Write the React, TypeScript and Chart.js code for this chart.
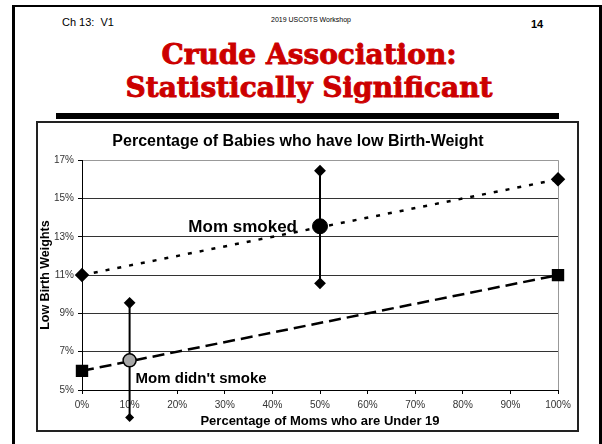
import React, { useEffect, useRef } from "react";
import { Chart, registerables } from "chart.js";

Chart.register(...registerables);

// ---- data ----
const lineX = [0, 100];
const smokedY = [11, 16];
const notSmokedY = [6, 11];
const smokedMeanX = 50;
const smokedMean = 13.55;
const smokedCI = [10.57, 16.45];
const notSmokedMeanX = 10;
const notSmokedMean = 6.55;
const notSmokedCI = [3.56, 9.55];
const xTicks = [0, 10, 20, 30, 40, 50, 60, 70, 80, 90, 100];
const yTicks = [5, 7, 9, 11, 13, 15, 17];
const chartTitle = "Percentage of Babies who have low Birth-Weight";
const xTitle = "Percentage of Moms who are Under 19";
const yTitle = "Low Birth Weights";
const smokedLabel = "Mom smoked";
const notSmokedLabel = "Mom didn't smoke";

const SANS = "'Liberation Sans', Arial, sans-serif";

const labelPlugin = {
  id: "groupLabels",
  afterDatasetsDraw(chart: any) {
    const { ctx, scales, chartArea } = chart;
    const x = scales.x;
    const y = scales.y;
    ctx.save();
    // caps of error bars that fall outside the plot area (Chart.js skips those points)
    chart.data.datasets.forEach((ds: any, i: number) => {
      if (ds.pointStyle !== "rectRot") return;
      const meta = chart.getDatasetMeta(i);
      meta.data.forEach((pt: any) => {
        const px = pt.x;
        const py = pt.y;
        if (py <= chartArea.bottom + 0.5 && py >= chartArea.top - 0.5) return;
        const r = ds.pointRadius;
        ctx.beginPath();
        ctx.moveTo(px, py - r);
        ctx.lineTo(px + r, py);
        ctx.lineTo(px, py + r);
        ctx.lineTo(px - r, py);
        ctx.closePath();
        ctx.fillStyle = "#000";
        ctx.fill();
      });
    });
    ctx.fillStyle = "#000";
    ctx.font = `bold 17px ${SANS}`;
    ctx.textAlign = "right";
    ctx.textBaseline = "alphabetic";
    ctx.fillText(
      smokedLabel,
      x.getPixelForValue(smokedMeanX) - 23,
      y.getPixelForValue(smokedMean) + 6
    );
    ctx.font = `bold 15px ${SANS}`;
    ctx.textAlign = "left";
    ctx.fillText(
      notSmokedLabel,
      x.getPixelForValue(notSmokedMeanX) + 6,
      y.getPixelForValue(notSmokedMean) + 23
    );
    ctx.restore();
  },
};

function ChartBox() {
  const ref = useRef<HTMLCanvasElement | null>(null);
  useEffect(() => {
    if (!ref.current) return;
    const pts = (xs: number[], ys: number[]) => xs.map((v, i) => ({ x: v, y: ys[i] }));
    const chart = new Chart(ref.current, {
      type: "scatter",
      data: {
        datasets: [
          {
            label: "smoked mean",
            data: [{ x: smokedMeanX, y: smokedMean }],
            pointStyle: "circle",
            pointRadius: 7.5,
            backgroundColor: "#000",
            borderColor: "#000",
            borderWidth: 1,
            order: 0,
          } as any,
          {
            label: "not smoked mean",
            data: [{ x: notSmokedMeanX, y: notSmokedMean }],
            pointStyle: "circle",
            pointRadius: 6.5,
            backgroundColor: "#a6a6a6",
            borderColor: "#000",
            borderWidth: 1.5,
            order: 0,
            clip: false,
          },
          {
            label: "smoked CI",
            data: pts([smokedMeanX, smokedMeanX], smokedCI),
            showLine: true,
            borderColor: "#000",
            borderWidth: 2,
            pointStyle: "rectRot",
            pointRadius: 4.5,
            backgroundColor: "#000",
            order: 1,
            clip: false,
          },
          {
            label: "not smoked CI",
            data: pts([notSmokedMeanX, notSmokedMeanX], notSmokedCI),
            showLine: true,
            borderColor: "#000",
            borderWidth: 2,
            pointStyle: "rectRot",
            pointRadius: 4.5,
            backgroundColor: "#000",
            order: 1,
            clip: false,
          },
          {
            label: "smoked",
            data: pts(lineX, smokedY),
            showLine: true,
            borderColor: "#000",
            borderWidth: 2.5,
            borderDash: [4, 8],
            pointStyle: "rectRot",
            pointRadius: 5.5,
            backgroundColor: "#000",
            order: 2,
            clip: false,
          },
          {
            label: "not smoked",
            data: pts(lineX, notSmokedY),
            showLine: true,
            borderColor: "#000",
            borderWidth: 2.5,
            borderDash: [12, 6],
            pointStyle: "rect",
            pointRadius: 7,
            backgroundColor: "#000",
            order: 2,
            clip: false,
          },
        ],
      },
      options: {
        animation: false,
        responsive: false,
        layout: { padding: { left: 0, right: 19, top: 0, bottom: 0 } },
        plugins: {
          legend: { display: false },
          tooltip: { enabled: false },
          title: {
            display: true,
            text: chartTitle,
            color: "#000",
            font: { family: SANS, size: 16, weight: "bold", lineHeight: 1.2 },
            padding: { top: 9, bottom: 9 },
          },
        },
        scales: {
          x: {
            type: "linear",
            min: 0,
            max: 100,
            afterFit: (s: any) => {
              s.height = 40;
            },
            afterBuildTicks: (s: any) => {
              s.ticks = xTicks.map((v) => ({ value: v }));
            },
            ticks: {
              color: "#333",
              font: { family: SANS, size: 10 },
              padding: 5,
              maxRotation: 0,
              callback: (v: any) => `${v}%`,
            },
            grid: {
              color: (c: any) => (c.tick && c.tick.value === 100 ? "#999" : "rgba(0,0,0,0)"),
              tickColor: "#000",
              tickLength: 4,
              lineWidth: 1,
            },
            border: { color: "#000", width: 1 },
            title: {
              display: true,
              text: xTitle,
              color: "#000",
              font: { family: SANS, size: 13, weight: "bold", lineHeight: 1.2 },
              padding: { top: 0, bottom: 1 },
            },
          },
          y: {
            type: "linear",
            min: 5,
            max: 17,
            afterFit: (s: any) => {
              s.width = 44;
            },
            afterBuildTicks: (s: any) => {
              s.ticks = yTicks.map((v) => ({ value: v }));
            },
            ticks: {
              color: "#333",
              font: { family: SANS, size: 10 },
              padding: 4,
              callback: (v: any) => `${v}%`,
            },
            grid: {
              color: (c: any) => (c.tick && c.tick.value === 17 ? "#999" : "#333"),
              tickColor: "#000",
              tickLength: 4,
              lineWidth: 1,
            },
            border: { color: "#000", width: 1 },
            title: {
              display: true,
              text: yTitle,
              color: "#000",
              font: { family: SANS, size: 12.5, weight: "bold", lineHeight: 1.2 },
              padding: { top: 0, bottom: 0 },
            },
          },
        },
      },
      plugins: [labelPlugin],
    } as any);
    return () => chart.destroy();
  }, []);
  return <canvas ref={ref} width={539} height={307} style={{ display: "block", width: 539, height: 307 }} />;
}

export default function App() {
  const abs = (o: React.CSSProperties): React.CSSProperties => ({ position: "absolute", ...o });
  return (
    <div style={{ position: "fixed", left: 0, top: 0, width: 602, height: 444, background: "#fff", overflow: "hidden" }}>
      <div
        style={abs({
          left: 12,
          top: 5,
          width: 590,
          height: 480,
          boxSizing: "border-box",
          borderLeft: "3px solid #000",
          borderRight: "3px solid #000",
          borderTop: "2px solid #000",
        })}
      />
      <div style={abs({ left: 62, top: 15, font: `11px ${SANS}`, color: "#000", whiteSpace: "pre", lineHeight: "14px" })}>
        {"Ch 13:  V1"}
      </div>
      <div style={abs({ left: 211, width: 200, top: 15, textAlign: "center", font: `7px ${SANS}`, color: "#000", lineHeight: "9px" })}>
        2019 USCOTS Workshop
      </div>
      <div style={abs({ left: 531, top: 17, font: `bold 11px ${SANS}`, color: "#000", lineHeight: "14px" })}>14</div>
      <div
        style={abs({
          left: 0,
          width: 618,
          top: 38,
          textAlign: "center",
          font: "bold 28px 'DejaVu Serif', serif",
          color: "#cc0000",
          WebkitTextStroke: "0.9px #cc0000",
          lineHeight: "33px",
          whiteSpace: "pre",
        })}
      >
        {"Crude Association:\nStatistically Significant"}
      </div>
      <div style={abs({ left: 56, top: 113, width: 503, height: 6, background: "#000" })} />
      <div
        style={abs({
          left: 36,
          top: 121,
          width: 543,
          height: 311,
          boxSizing: "border-box",
          border: "2px solid #222",
        })}
      >
        <ChartBox />
      </div>
    </div>
  );
}
